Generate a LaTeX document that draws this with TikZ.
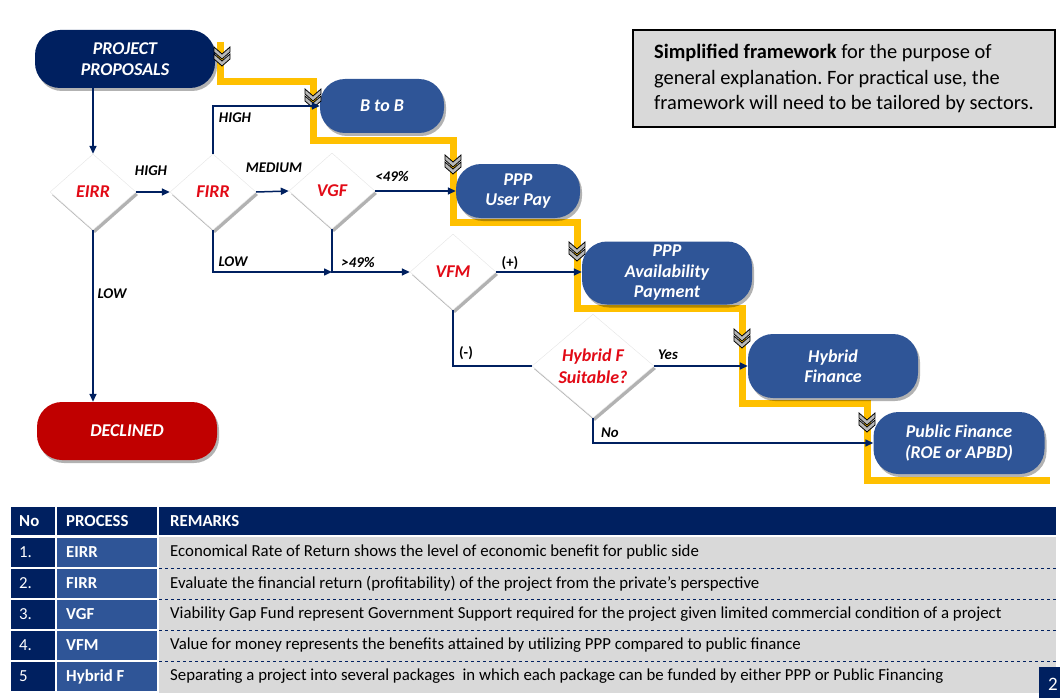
\documentclass[tikz,border=0pt]{standalone}
\usepackage{fontspec}
\setmainfont{Carlito}
\usepackage{tikz}
\usetikzlibrary{
    arrows.meta,
    positioning,
    shapes.geometric,
    shadows,
    calc
}
\usepackage{xcolor}
\definecolor{navyblue}{RGB}{0,32,96}
\definecolor{boxblue}{RGB}{47,85,151}
\definecolor{declred}{RGB}{192,0,0}
\definecolor{textred}{RGB}{226,10,22}
\definecolor{trailgold}{RGB}{255,192,0}
\definecolor{panelgray}{RGB}{217,217,217}
\frenchspacing

\tikzset{
    pill/.style={rectangle, rounded corners=25pt, fill=boxblue, text=white,
        align=center, inner sep=0pt, font=\fontsize{18}{20.5}\selectfont\bfseries\itshape,
        drop shadow={shadow xshift=2pt, shadow yshift=-3pt, opacity=0.3, fill=black}},
    decision/.style={diamond, fill=white, draw=gray!20, inner sep=0pt, align=center,
        text=textred, font=\fontsize{18}{22}\selectfont\bfseries\itshape,
        drop shadow={shadow xshift=2pt, shadow yshift=-3pt, opacity=0.3, fill=black}},
    flow/.style={navyblue, line width=1.5pt, -{Triangle[length=8pt, width=7pt]}},
    flowline/.style={navyblue, line width=1.5pt},
    lbl/.style={inner sep=0pt, font=\fontsize{14.8}{16}\selectfont\bfseries\itshape},
    cell/.style={anchor=west, inner sep=0pt, font=\fontsize{16.8}{19}\selectfont},
    trail/.style={trailgold, line width=7pt},
    downchev/.pic={
        \foreach \d in {-9,-2} {
            \draw[black, fill=gray!55, line width=0.8pt]
                (-8,\d) -- (0,\d+7) -- (8,\d) -- (8,\d+5) -- (0,\d+12) -- (-8,\d+5) -- cycle;
        }
    }
}

\begin{document}
\begin{tikzpicture}[x=1pt, y=-1pt]
\useasboundingbox (0,0) rectangle (1060,698);

% === yellow trail ===
\draw[trail] (220,42) -- (220,82) -- (313,82) -- (313,141) -- (453,141) -- (453,222)
    -- (577,222) -- (577,308) -- (742,308) -- (742,403) -- (867,403) -- (867,480) -- (1050,480);

% === boxes ===
\node (proposals) [pill, fill=navyblue, minimum width=180pt, minimum height=58pt] at (125,59) {PROJECT\\PROPOSALS};
\node (btob) [pill, minimum width=124pt, minimum height=54pt] at (382,106) {B to B};
\node (userpay) [pill, minimum width=124pt, minimum height=54pt] at (518,191) {PPP\\User Pay};
\node (avail) [pill, minimum width=170pt, minimum height=63pt] at (667,273) {PPP\\Availability\\Payment};
\node (hybfin) [pill, minimum width=170pt, minimum height=64pt] at (833,366) {Hybrid\\Finance};
\node (pubfin) [pill, minimum width=171pt, minimum height=62pt] at (959,443) {Public Finance\\(ROE or APBD)};
\node (declined) [pill, fill=declred, minimum width=180pt, minimum height=58pt] at (127,431) {DECLINED};

% === decisions ===
\node (eirr) [decision, minimum width=86pt, minimum height=76pt] at (93,192) {EIRR};
\node (firr) [decision, minimum width=86pt, minimum height=76pt] at (213,192) {FIRR};
\node (vgf) [decision, minimum width=86pt, minimum height=76pt] at (332,191) {VGF};
\node (vfm) [decision, minimum width=86pt, minimum height=76pt] at (453,272) {VFM};
\node (hybq) [decision, minimum width=122pt, minimum height=92pt] at (593,366) {Hybrid F\\Suitable?};

% === markers on the trail ===
\foreach \mx/\my in {222/56, 313/98, 453/164, 577/251, 742/338, 867/422} {
    \pic at (\mx,\my) {downchev};
}

% === connectors ===
\draw[flow] (proposals.south -| eirr.north) -- (eirr.north);
\draw[flow] (eirr.east) -- (firr.west);
\draw[flow] (firr.north) |- (btob.west);
\draw[flow] (firr.east) -- (vgf.west);
\draw[flow] (vgf.east) -- (userpay.west);
\coordinate (lowjoin) at (vgf.south |- vfm.west);
\draw[flow] (firr.south) |- (lowjoin);
\draw[flow] (vgf.south) |- (vfm.west);
\draw[flow] (vfm.east) -- (vfm.east -| avail.west);
\draw[flowline] (vfm.south) |- (hybq.west);
\draw[flow] (hybq.east) -- (hybfin.west);
\draw[flow] (hybq.south) |- (pubfin.west);
\draw[flow] (eirr.south) -- (eirr.south |- declined.north);

% labels
\node (lhigh1) [lbl] at (151,171) {HIGH};
\node (lhigh2) [lbl] at (235,118) {HIGH};
\node (lmed) [lbl] at (274,168) {MEDIUM};
\node (lless) [lbl] at (392,176) {<49\%};
\node (llow1) [lbl] at (233,262) {LOW};
\node (lmore) [lbl] at (358,262) {>49\%};
\node (lplus) [lbl, font=\fontsize{14.8}{16}\selectfont\bfseries] at (510,263) {(+)};
\node (lminus) [lbl, font=\fontsize{14.8}{16}\selectfont\bfseries] at (466,353) {(-)};
\node (lyes) [lbl] at (668,355) {Yes};
\node (lno) [lbl] at (610,433) {No};
\node (llow2) [lbl] at (112,294) {LOW};

% === note ===
\node (note) [draw=black, line width=2pt, fill=panelgray, minimum width=422pt,
    minimum height=97pt, align=left, font=\fontsize{20.4}{25.5}\selectfont] at (844,78.5)
    {\textbf{Simplified framework} for the purpose of\\
     general explanation. For practical use, the\\
     framework will need to be tailored by sectors.};

% === table ===
\fill[navyblue] (11,507) rectangle (55,535);
\fill[navyblue] (57,507) rectangle (157,535);
\fill[navyblue] (159,507) rectangle (1056,535);
\node (hno) [cell, text=white, font=\fontsize{16.8}{19}\selectfont\bfseries] at (19,521) {No};
\node (hproc) [cell, text=white, font=\fontsize{16.8}{19}\selectfont\bfseries] at (66,521) {PROCESS};
\node (hrem) [cell, text=white, font=\fontsize{16.8}{19}\selectfont\bfseries] at (170,521) {REMARKS};
\fill[panelgray] (159,537) rectangle (1056,693);
\foreach \i/\no/\proc/\rem in {
    0/1./EIRR/Economical Rate of Return shows the level of economic benefit for public side,
    1/2./FIRR/Evaluate the financial return (profitability) of the project from the private’s perspective,
    2/3./VGF/Viability Gap Fund represent Government Support required for the project given limited commercial condition of a project,
    3/4./VFM/Value for money represents the benefits attained by utilizing PPP compared to public finance,
    4/5/Hybrid F/Separating a project into several packages \ in which each package can be funded by either PPP or Public Financing} {
    \fill[navyblue] (11,538+31*\i) rectangle (55,567+31*\i);
    \fill[boxblue] (57,538+31*\i) rectangle (157,567+31*\i);
    \node (no\i) [cell, text=white] at (19,552.5+31*\i) {\no};
    \node (proc\i) [cell, text=white, font=\fontsize{16.8}{19}\selectfont\bfseries] at (66,552.5+31*\i) {\proc};
    \node (rem\i) [cell] at (170,552.5+31*\i) {\rem};
}
\foreach \y in {568,599,630,661} {\draw[navyblue, dashed, line width=0.6pt] (159,\y) -- (1056,\y);}

% page number
\fill[navyblue] (1039,667) rectangle (1060,698);
\node (pagenum) [text=white, font=\fontsize{19}{20}\selectfont] at (1053,684) {2};

\end{tikzpicture}
\end{document}
